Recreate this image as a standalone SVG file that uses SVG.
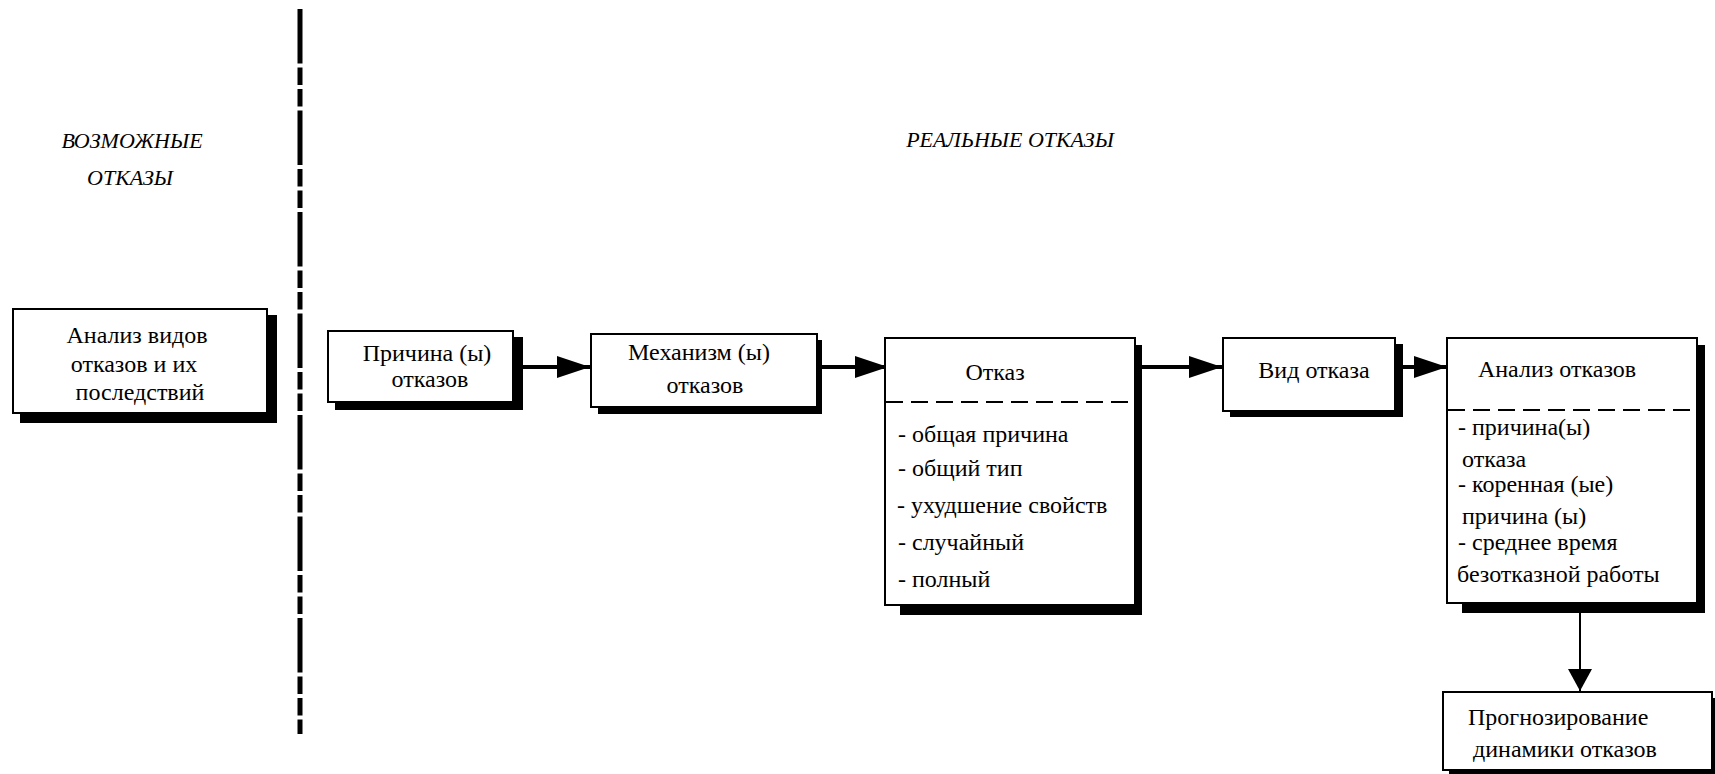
<svg xmlns="http://www.w3.org/2000/svg" width="1715" height="774" viewBox="0 0 1715 774">
<defs>
<marker id="ah" markerUnits="userSpaceOnUse" markerWidth="34" markerHeight="22" refX="33" refY="11" orient="auto">
<path d="M0,0 L33,11 L0,22 Z" fill="#000"/>
</marker>
<marker id="ahs" markerUnits="userSpaceOnUse" markerWidth="23" markerHeight="24" refX="22" refY="12" orient="auto">
<path d="M0,0 L22,12 L0,24 Z" fill="#000"/>
</marker>
</defs>
<rect width="1715" height="774" fill="#fff"/>
<line x1="300" y1="9" x2="300" y2="734" stroke="#000" stroke-width="5" stroke-dasharray="54.5 4 17.5 4 17.5 4"/>
<text font-family="Times New Roman" font-size="22" font-style="italic" text-anchor="middle" x="132" y="148">ВОЗМОЖНЫЕ</text>
<text font-family="Times New Roman" font-size="22" font-style="italic" text-anchor="middle" x="130" y="185">ОТКАЗЫ</text>
<text font-family="Times New Roman" font-size="22" font-style="italic" text-anchor="middle" x="1010" y="147">РЕАЛЬНЫЕ ОТКАЗЫ</text>

<g id="connectors" stroke="#000" stroke-width="4" fill="none">
<line x1="523" y1="367" x2="590" y2="367" marker-end="url(#ah)"/>
<line x1="822" y1="367" x2="888" y2="367" marker-end="url(#ah)"/>
<line x1="1142" y1="367" x2="1222" y2="367" marker-end="url(#ah)"/>
<line x1="1403" y1="367" x2="1447" y2="367" marker-end="url(#ah)"/>
<line x1="1580" y1="613" x2="1580" y2="691" stroke-width="2" marker-end="url(#ahs)"/>
</g>

<g id="n1">
<rect x="20" y="315" width="257" height="108"/>
<rect x="13" y="309" width="254" height="104" fill="#fff" stroke="#000" stroke-width="2"/>
<text font-family="Times New Roman" font-size="24" x="137" y="343" text-anchor="middle">Анализ видов</text>
<text font-family="Times New Roman" font-size="24" x="134" y="372" text-anchor="middle">отказов и их</text>
<text font-family="Times New Roman" font-size="24" x="140" y="400" text-anchor="middle">последствий</text>
</g>

<g id="n2">
<rect x="335" y="337" width="188" height="73"/>
<rect x="328" y="331" width="185" height="71" fill="#fff" stroke="#000" stroke-width="2"/>
<text font-family="Times New Roman" font-size="24" x="427" y="361" text-anchor="middle">Причина (ы)</text>
<text font-family="Times New Roman" font-size="24" x="430" y="387" text-anchor="middle">отказов</text>
</g>

<g id="n3">
<rect x="598" y="340" width="224" height="74"/>
<rect x="591" y="334" width="226" height="73" fill="#fff" stroke="#000" stroke-width="2"/>
<text font-family="Times New Roman" font-size="24" x="699" y="360" text-anchor="middle">Механизм (ы)</text>
<text font-family="Times New Roman" font-size="24" x="705" y="393" text-anchor="middle">отказов</text>
</g>

<g id="n4">
<rect x="900" y="345" width="242" height="270"/>
<rect x="885" y="338" width="250" height="267" fill="#fff" stroke="#000" stroke-width="2"/>
<text font-family="Times New Roman" font-size="24" x="995" y="380" text-anchor="middle">Отказ</text>
<line x1="886" y1="402" x2="1134" y2="402" stroke="#000" stroke-width="2" stroke-dasharray="17 8"/>
<text font-family="Times New Roman" font-size="24" x="898" y="442">- общая причина</text>
<text font-family="Times New Roman" font-size="24" x="898" y="476">- общий тип</text>
<text font-family="Times New Roman" font-size="24" x="897" y="513">- ухудшение свойств</text>
<text font-family="Times New Roman" font-size="24" x="898" y="550">- случайный</text>
<text font-family="Times New Roman" font-size="24" x="898" y="587">- полный</text>
</g>

<g id="n5">
<rect x="1230" y="344" width="173" height="73"/>
<rect x="1223" y="338" width="172" height="73" fill="#fff" stroke="#000" stroke-width="2"/>
<text font-family="Times New Roman" font-size="24" x="1314" y="378" text-anchor="middle">Вид отказа</text>
</g>

<g id="n6">
<rect x="1462" y="345" width="243" height="268"/>
<rect x="1447" y="338" width="250" height="265" fill="#fff" stroke="#000" stroke-width="2"/>
<text font-family="Times New Roman" font-size="24" x="1557" y="377" text-anchor="middle">Анализ отказов</text>
<line x1="1448" y1="410" x2="1696" y2="410" stroke="#000" stroke-width="2" stroke-dasharray="17 8"/>
<text font-family="Times New Roman" font-size="24" x="1458" y="435">- причина(ы)</text>
<text font-family="Times New Roman" font-size="24" x="1462" y="467">отказа</text>
<text font-family="Times New Roman" font-size="24" x="1458" y="492">- коренная (ые)</text>
<text font-family="Times New Roman" font-size="24" x="1462" y="524">причина (ы)</text>
<text font-family="Times New Roman" font-size="24" x="1458" y="550">- среднее время</text>
<text font-family="Times New Roman" font-size="24" x="1457" y="582">безотказной работы</text>
</g>

<g id="n7">
<rect x="1449" y="698" width="266" height="76"/>
<rect x="1443" y="692" width="269" height="78" fill="#fff" stroke="#000" stroke-width="2"/>
<text font-family="Times New Roman" font-size="24" x="1468" y="725">Прогнозирование</text>
<text font-family="Times New Roman" font-size="24" x="1473" y="757">динамики отказов</text>
</g>
</svg>
